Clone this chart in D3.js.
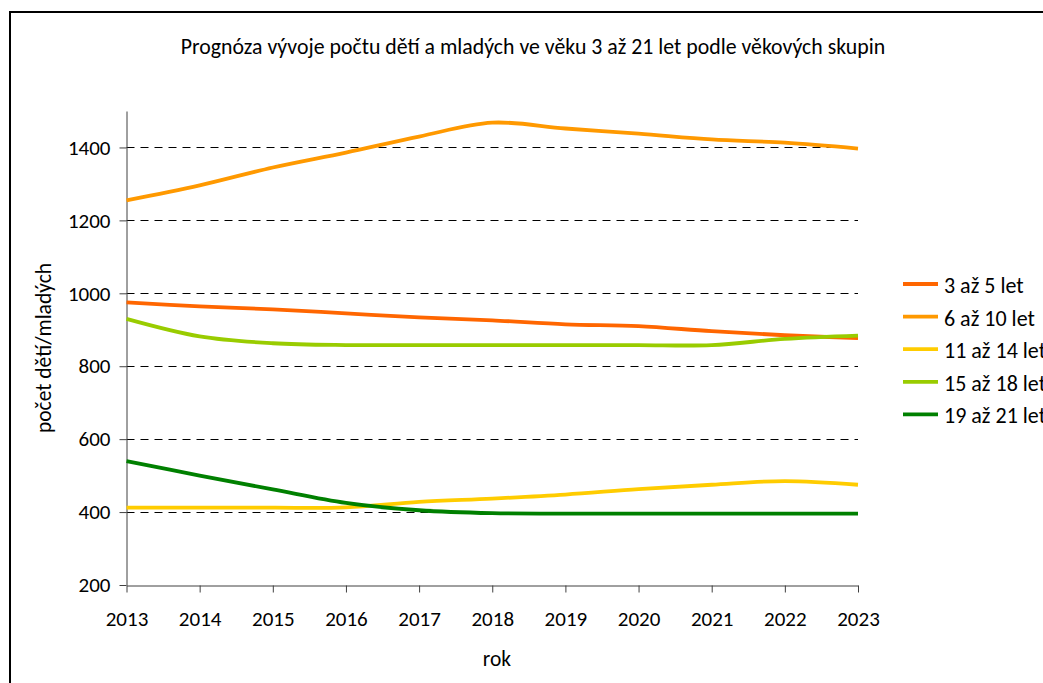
<!DOCTYPE html>
<html>
<head>
<meta charset="utf-8">
<script src="https://cdn.jsdelivr.net/npm/d3@7"></script>
<style>
  body { margin: 0; background: #fff; }
  svg text { font-family: Carlito, Lato, "Open Sans", sans-serif; fill: #000; }
</style>
</head>
<body>
<div id="chart"></div>
<script>
// data
var years = [2013, 2014, 2015, 2016, 2017, 2018, 2019, 2020, 2021, 2022, 2023];
var yTicks = [200, 400, 600, 800, 1000, 1200, 1400];
var seriesNames = ["3 až 5 let", "6 až 10 let", "11 až 14 let", "15 až 18 let", "19 až 21 let"];
var seriesColors = ["#FF6600", "#FF9900", "#FFCC00", "#99CC00", "#008000"];
var v3_5   = [975, 964, 956, 945, 934, 926, 915, 910, 896, 885, 877];
var v6_10  = [1255, 1296, 1345, 1386, 1430, 1468, 1452, 1438, 1422, 1413, 1397];
var v11_14 = [412, 412, 412, 413, 428, 437, 448, 463, 475, 485, 475];
var v15_18 = [930, 882, 863, 858, 858, 858, 858, 858, 858, 875, 884];
var v19_21 = [540, 500, 462, 425, 405, 397, 396, 396, 396, 396, 396];
var seriesValues = [v3_5, v6_10, v11_14, v15_18, v19_21];

var W = 1043, H = 683;
var plot = {left: 126.5, right: 858, top: 111, bottom: 585};

var svg = d3.select("#chart").append("svg").attr("width", W).attr("height", H);

// outer frame (runs off the right and bottom edges)
svg.append("rect").attr("x", 10).attr("y", 12).attr("width", 1200).attr("height", 800)
    .attr("fill", "none").attr("stroke", "#000").attr("stroke-width", 2);

var x = d3.scaleLinear().domain([2013, 2023]).range([plot.left, plot.right]);
var y = d3.scaleLinear().domain([200, 1500]).range([plot.bottom, plot.top]);

// dashed gridlines
svg.append("g").selectAll("line").data(yTicks.slice(1)).enter().append("line")
    .attr("x1", plot.left).attr("x2", plot.right)
    .attr("y1", function(d){ return Math.round(y(d)) + 0.5; })
    .attr("y2", function(d){ return Math.round(y(d)) + 0.5; })
    .attr("stroke", "#000").attr("stroke-dasharray", "8,6");

// y axis
var yAxis = svg.append("g").attr("transform", "translate(" + plot.left + ",0)")
    .call(d3.axisLeft(y).tickValues(yTicks).tickFormat(d3.format("d")).tickSize(7).tickPadding(9).tickSizeOuter(0));
// x axis
var xAxis = svg.append("g").attr("transform", "translate(0," + (plot.bottom + 0.5) + ")")
    .call(d3.axisBottom(x).tickValues(years).tickFormat(d3.format("d")).tickSize(7).tickPadding(19).tickSizeOuter(0));

[yAxis, xAxis].forEach(function(a){
    a.select(".domain").attr("stroke", "#404040");
    a.selectAll(".tick line").attr("stroke", "#404040");
    a.selectAll(".tick text").attr("font-size", 21).attr("font-family", null).attr("fill", "#000");
});

// lines
var line = d3.line()
    .x(function(d, i){ return x(years[i]); })
    .y(function(d){ return y(d); })
    .curve(d3.curveCardinal);

svg.append("g").selectAll("path").data(seriesValues).enter().append("path")
    .attr("d", line)
    .attr("fill", "none")
    .attr("stroke", function(d, i){ return seriesColors[i]; })
    .attr("stroke-width", 3.8)
    .attr("stroke-linejoin", "round");

// title and axis titles
svg.append("text").attr("x", 533).attr("y", 54).attr("text-anchor", "middle").attr("font-size", 21.8)
    .text("Prognóza vývoje počtu dětí a mladých ve věku 3 až 21 let podle věkových skupin");
svg.append("text").attr("x", 497).attr("y", 666).attr("text-anchor", "middle").attr("font-size", 21.5)
    .text("rok");
svg.append("text").attr("transform", "translate(51,348) rotate(-90)").attr("text-anchor", "middle").attr("font-size", 21.5)
    .text("počet dětí/mladých");

// legend
var legend = svg.append("g").selectAll("g").data(seriesNames).enter().append("g")
    .attr("transform", function(d, i){ return "translate(903," + (284 + i * 32.6) + ")"; });
legend.append("line").attr("x1", 0).attr("x2", 35).attr("y1", 0).attr("y2", 0)
    .attr("stroke", function(d, i){ return seriesColors[i]; }).attr("stroke-width", 3.8);
legend.append("text").attr("x", 41).attr("y", 9).attr("font-size", 22).text(function(d){ return d; });
</script>
</body>
</html>
